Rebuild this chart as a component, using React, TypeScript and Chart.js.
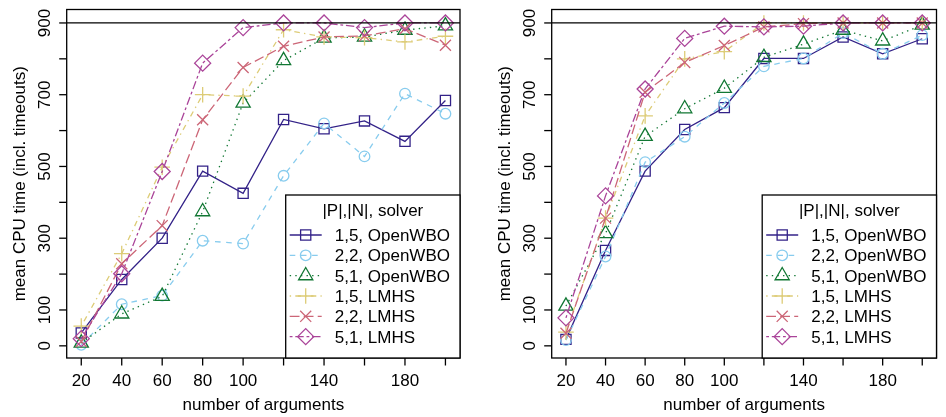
import React, { useEffect, useRef } from "react";
import { Chart, registerables } from "chart.js";

Chart.register(...registerables);

// ---------- data ----------
const xValues = [20, 40, 60, 80, 100, 120, 140, 160, 180, 200];
const seriesLabels = [
  "1,5, OpenWBO",
  "2,2, OpenWBO",
  "5,1, OpenWBO",
  "1,5, LMHS",
  "2,2, LMHS",
  "5,1, LMHS",
];

// left panel
const left15OpenWBO = [36, 185, 300, 487, 425, 631, 605, 627, 570, 684];
const left22OpenWBO = [3, 116, 140, 293, 285, 474, 620, 528, 703, 647];
const left51OpenWBO = [8, 89, 138, 374, 677, 795, 858, 861, 880, 892];
const left15LMHS = [55, 257, 498, 700, 696, 881, 861, 859, 847, 863];
const left22LMHS = [12, 229, 335, 630, 776, 835, 861, 864, 884, 838];
const left51LMHS = [20, 201, 486, 788, 887, 900, 900, 887, 900, 900];

// right panel
const right15OpenWBO = [18, 266, 487, 603, 664, 801, 801, 861, 814, 856];
const right22OpenWBO = [16, 249, 512, 583, 677, 779, 801, 872, 814, 866];
const right51OpenWBO = [111, 313, 584, 661, 718, 804, 841, 880, 850, 894];
const right15LMHS = [38, 356, 641, 800, 820, 900, 900, 900, 900, 900];
const right22LMHS = [35, 356, 707, 790, 837, 889, 898, 900, 900, 900];
const right51LMHS = [78, 418, 716, 857, 891, 889, 891, 900, 900, 900];

const timeoutLine = 900;
const xTickValues = [20, 40, 60, 80, 100, 120, 140, 160, 180, 200];
const xTickLabels = ["20", "40", "60", "80", "100", "", "140", "", "180", ""];
const yTickValues = [0, 100, 200, 300, 400, 500, 600, 700, 800, 900];
const yTickLabels = ["0", "100", "", "300", "", "500", "", "700", "", "900"];
const xTitle = "number of arguments";
const yTitle = "mean CPU time (incl. timeouts)";
const legendTitle = "|P|,|N|, solver";

// ---------- styles ----------
const colors = ["#332288", "#88CCEE", "#117733", "#DDCC77", "#CC6677", "#AA4499"];
const dashes = [[], [5.6, 5.6], [1.4, 4.2], [1.4, 4.2, 5.6, 4.2], [9.8, 4.2], [2.8, 2.8, 8.4, 2.8]];
const pointStyles = ["rect", "circle", "triangle", "cross", "crossRot", "rectRot"];
const pointRadii = [7.2, 5.3, 8.2, 7.8, 7.8, 8];
const FONT = '"Liberation Sans", Arial, Helvetica, sans-serif';
const LW = 1.3;

const X_MIN = 12.8;
const X_MAX = 207.2;
const Y_MIN = -33.9;
const Y_MAX = 937.5;

function drawMarker(ctx: CanvasRenderingContext2D, style: string, x: number, y: number, r: number) {
  ctx.beginPath();
  switch (style) {
    case "rect": {
      const s = Math.SQRT1_2 * r;
      ctx.rect(x - s, y - s, 2 * s, 2 * s);
      break;
    }
    case "circle":
      ctx.arc(x, y, r, 0, Math.PI * 2);
      break;
    case "triangle": {
      let rad = 0;
      ctx.moveTo(x + Math.sin(rad) * r, y - Math.cos(rad) * r);
      rad += (2 * Math.PI) / 3;
      ctx.lineTo(x + Math.sin(rad) * r, y - Math.cos(rad) * r);
      rad += (2 * Math.PI) / 3;
      ctx.lineTo(x + Math.sin(rad) * r, y - Math.cos(rad) * r);
      ctx.closePath();
      break;
    }
    case "cross":
      ctx.moveTo(x - r, y);
      ctx.lineTo(x + r, y);
      ctx.moveTo(x, y - r);
      ctx.lineTo(x, y + r);
      break;
    case "crossRot": {
      const o = Math.SQRT1_2 * r;
      ctx.moveTo(x - o, y - o);
      ctx.lineTo(x + o, y + o);
      ctx.moveTo(x + o, y - o);
      ctx.lineTo(x - o, y + o);
      break;
    }
    case "rectRot":
      ctx.moveTo(x - r, y);
      ctx.lineTo(x, y - r);
      ctx.lineTo(x + r, y);
      ctx.lineTo(x, y + r);
      ctx.closePath();
      break;
  }
  ctx.stroke();
}

const rStylePlugin = {
  id: "rStyle",
  afterDatasetsDraw(chart: any) {
    const ctx: CanvasRenderingContext2D = chart.ctx;
    const a = chart.chartArea;
    const xs = chart.scales.x;
    const ys = chart.scales.y;
    ctx.save();
    ctx.strokeStyle = "#000";
    ctx.fillStyle = "#000";
    ctx.lineWidth = LW;
    ctx.setLineDash([]);

    // timeout reference line
    const yRef = ys.getPixelForValue(timeoutLine);
    ctx.beginPath();
    ctx.moveTo(a.left, yRef);
    ctx.lineTo(a.right, yRef);
    ctx.stroke();

    // box
    ctx.strokeRect(a.left, a.top, a.right - a.left, a.bottom - a.top);

    // x ticks
    ctx.font = `17px ${FONT}`;
    ctx.textAlign = "center";
    ctx.textBaseline = "alphabetic";
    xTickValues.forEach((v, i) => {
      const px = xs.getPixelForValue(v);
      ctx.beginPath();
      ctx.moveTo(px, a.bottom);
      ctx.lineTo(px, a.bottom + 7.5);
      ctx.stroke();
      if (xTickLabels[i]) ctx.fillText(xTickLabels[i], px, a.bottom + 28);
    });
    ctx.fillText(xTitle, (a.left + a.right) / 2, a.bottom + 52);

    // y ticks
    yTickValues.forEach((v, i) => {
      const py = ys.getPixelForValue(v);
      ctx.beginPath();
      ctx.moveTo(a.left, py);
      ctx.lineTo(a.left - 7.5, py);
      ctx.stroke();
      if (yTickLabels[i]) {
        ctx.save();
        ctx.translate(a.left - 16.5, py);
        ctx.rotate(-Math.PI / 2);
        ctx.fillText(yTickLabels[i], 0, 0);
        ctx.restore();
      }
    });
    ctx.save();
    ctx.translate(a.left - 41.5, (a.top + a.bottom) / 2);
    ctx.rotate(-Math.PI / 2);
    ctx.fillText(yTitle, 0, 0);
    ctx.restore();

    // legend
    const lw = 174.3;
    const lh = 163;
    const lx = a.right - lw;
    const ly = a.bottom - lh;
    ctx.fillStyle = "#fff";
    ctx.fillRect(lx, ly, lw, lh);
    ctx.strokeStyle = "#000";
    ctx.strokeRect(lx, ly, lw, lh);
    ctx.fillStyle = "#000";
    ctx.textAlign = "center";
    ctx.fillText(legendTitle, lx + lw / 2, ly + 21);
    ctx.textAlign = "left";
    seriesLabels.forEach((label, i) => {
      const cy = ly + 40 + i * 20.33;
      ctx.strokeStyle = colors[i];
      ctx.lineWidth = LW;
      ctx.setLineDash(dashes[i]);
      ctx.beginPath();
      ctx.moveTo(lx + 4, cy);
      ctx.lineTo(lx + 36, cy);
      ctx.stroke();
      ctx.setLineDash([]);
      drawMarker(ctx, pointStyles[i], lx + 20, cy, pointRadii[i]);
      ctx.fillStyle = "#000";
      ctx.fillText(label, lx + 49, cy + 6);
    });
    ctx.restore();
  },
};

function makeConfig(series: number[][], padRight: number): any {
  return {
    type: "line",
    data: {
      datasets: series.map((vals, i) => ({
        label: seriesLabels[i],
        data: xValues.map((x, j) => ({ x, y: vals[j] })),
        borderColor: colors[i],
        borderWidth: LW,
        borderDash: dashes[i],
        pointStyle: pointStyles[i],
        pointRadius: pointRadii[i],
        pointBorderWidth: LW,
        pointBorderColor: colors[i],
        pointBackgroundColor: "rgba(0,0,0,0)",
        fill: false,
        tension: 0,
        order: series.length - 1 - i,
      })),
    },
    options: {
      responsive: false,
      maintainAspectRatio: false,
      devicePixelRatio: 1,
      animation: false,
      events: [],
      layout: { padding: { left: 66.7, right: padRight, top: 5.7, bottom: 59 } },
      scales: {
        x: { type: "linear", display: false, min: X_MIN, max: X_MAX },
        y: { type: "linear", display: false, min: Y_MIN, max: Y_MAX },
      },
      plugins: { legend: { display: false }, tooltip: { enabled: false } },
    },
    plugins: [rStylePlugin],
  };
}

function Panel({ series, width, padRight, left }: { series: number[][]; width: number; padRight: number; left: number }) {
  const ref = useRef<HTMLCanvasElement | null>(null);
  useEffect(() => {
    if (!ref.current) return;
    const chart = new Chart(ref.current, makeConfig(series, padRight));
    return () => chart.destroy();
  }, []);
  return (
    <canvas
      ref={ref}
      width={width}
      height={417}
      style={{ position: "absolute", left, top: 0, width, height: 417 }}
    />
  );
}

export default function App() {
  const leftSeries = [left15OpenWBO, left22OpenWBO, left51OpenWBO, left15LMHS, left22LMHS, left51LMHS];
  const rightSeries = [right15OpenWBO, right22OpenWBO, right51OpenWBO, right15LMHS, right22LMHS, right51LMHS];
  return (
    <div style={{ position: "fixed", left: 0, top: 0, width: 946, height: 417, background: "#fff", overflow: "hidden" }}>
      <Panel series={leftSeries} width={485} padRight={25} left={0} />
      <Panel series={rightSeries} width={461} padRight={2.7} left={485} />
    </div>
  );
}
